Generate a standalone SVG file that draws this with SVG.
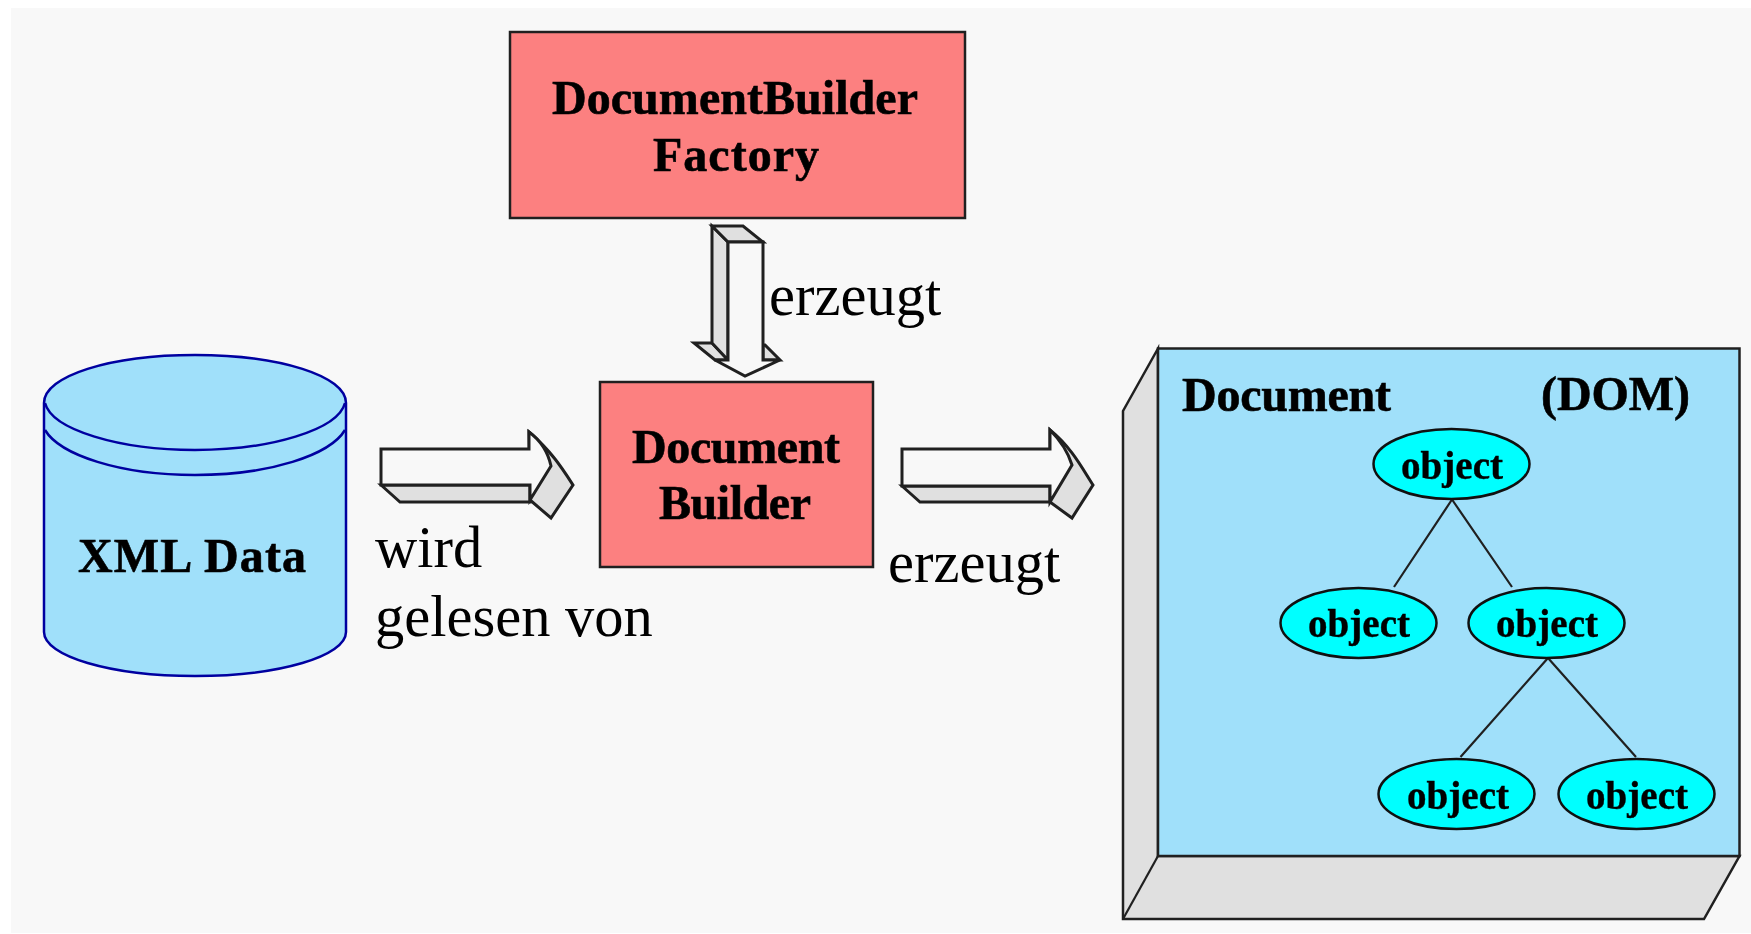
<svg xmlns="http://www.w3.org/2000/svg" width="1751" height="934" viewBox="0 0 1751 934">
<defs>
<filter id="soft" x="-5%" y="-10%" width="110%" height="120%"><feGaussianBlur stdDeviation="0.6"/></filter>
<style>
.box{fill:#fc8080;stroke:#202020;stroke-width:2.5}
.b{font-family:"Liberation Serif",serif;font-weight:bold;fill:#000;font-size:48px;filter:url(#soft);stroke:#000;stroke-width:.6}
.o{font-family:"Liberation Serif",serif;font-weight:bold;fill:#000;font-size:39px;filter:url(#soft);stroke:#000;stroke-width:.4}
.r{font-family:"Liberation Serif",serif;fill:#000;font-size:58.500px}
.cyl{fill:#a0e0fa;stroke:#0000a0;stroke-width:2.5}
.w{fill:#f8f8f8;stroke:#202020;stroke-width:3;stroke-linejoin:miter}
.g{fill:#e0e0e0;stroke:#202020;stroke-width:3;stroke-linejoin:miter}
.d{fill:#e0e0e0;stroke:#202020;stroke-width:2.5}
.f{fill:#a0e0fa;stroke:#202020;stroke-width:2.5}
.e{fill:#00ffff;stroke:#101010;stroke-width:2.5}
.l{stroke:#202020;stroke-width:2.2;fill:none}
</style>
</defs>
<rect width="1751" height="934" fill="#ffffff"/>
<rect x="11" y="8" width="1740" height="925" fill="#f8f8f8"/>

<g id="factory">
<rect class="box" x="510" y="32" width="455" height="186"/>
<text class="b" x="552" y="114" textLength="366">DocumentBuilder</text>
<text class="b" x="653" y="171" textLength="166">Factory</text>
</g>

<g id="builder">
<rect class="box" x="600" y="382" width="273" height="185"/>
<text class="b" x="632" y="463" textLength="208">Document</text>
<text class="b" x="659" y="519" textLength="152">Builder</text>
</g>

<g id="xml-data">
<path class="cyl" d="M44 403C44 376 110 355 195 355C280 355 346 376 346 403V632C346 656 280 676 195 676C110 676 44 656 44 632Z"/>
<path class="cyl" style="fill:none" d="M45 403C52 430 120 450 195 450C270 450 338 430 345 403"/>
<path class="cyl" style="fill:none" d="M45 430C60 455 120 475 195 475C270 475 330 455 345 430"/>
<text class="b" x="78" y="572" textLength="228">XML Data</text>
</g>

<g id="document">
<path class="d" d="M1158 348.500L1123 411V919H1704L1739.500 856H1158Z"/>
<path class="l" d="M1158 856L1123 919"/>
<rect class="f" x="1158" y="348.500" width="581.500" height="507.500"/>
<text class="b" x="1182" y="411" textLength="209">Document</text>
<text class="b" x="1541" y="410" textLength="149">(DOM)</text>
<g id="tree-lines">
<path class="l" d="M1452 499.500L1394 587M1452 499.500L1512 587M1548 658L1460.500 757M1548 658L1636 757"/>
</g>
<g id="obj-root"><ellipse class="e" cx="1451.500" cy="464" rx="78" ry="35"/><text class="o" x="1401" y="479" textLength="102">object</text></g>
<g id="obj-left"><ellipse class="e" cx="1358.500" cy="623" rx="78" ry="35"/><text class="o" x="1308" y="637" textLength="102">object</text></g>
<g id="obj-right"><ellipse class="e" cx="1546.500" cy="623" rx="78" ry="35"/><text class="o" x="1496" y="637" textLength="102">object</text></g>
<g id="obj-ll"><ellipse class="e" cx="1456.500" cy="794" rx="78" ry="35"/><text class="o" x="1407" y="809" textLength="102">object</text></g>
<g id="obj-lr"><ellipse class="e" cx="1636.500" cy="794" rx="78" ry="35"/><text class="o" x="1586" y="809" textLength="102">object</text></g>
</g>

<g id="connectors">
<g id="arrow-read">
<path class="g" d="M529 432C552 452 562 468 573 485L551 518L530 500Z"/>
<path class="g" d="M381 485L400 502H530V485Z"/>
<path class="w" d="M381 449H529V432C540 440 548 452 551 466L530 500V485H381Z"/>
</g>
<g id="arrow-create-doc">
<path class="g" d="M1050 430C1072 448 1082 468 1093 485L1072 518L1050 502Z"/>
<path class="g" d="M902 486L920 502H1050V486Z"/>
<path class="w" d="M902 449H1050V430C1060 440 1068 452 1072 465L1050 502V486H902Z"/>
</g>
<g id="arrow-create-builder">
<path class="g" d="M694 343H712L728 360H715Z"/>
<path class="g" d="M763 345H765L780 360H763Z"/>
<path class="g" d="M712 226L728 242V360L712 343Z"/>
<path class="g" d="M712 226H743L763 242H728Z"/>
<path class="w" d="M728 242H763V360H780L745 376L715 360H728Z"/>
</g>
</g>

<text class="r" x="769" y="315">erzeugt</text>
<text class="r" x="888" y="582">erzeugt</text>
<text class="r" x="375" y="567">wird</text>
<text class="r" x="375" y="636">gelesen von</text>
</svg>
